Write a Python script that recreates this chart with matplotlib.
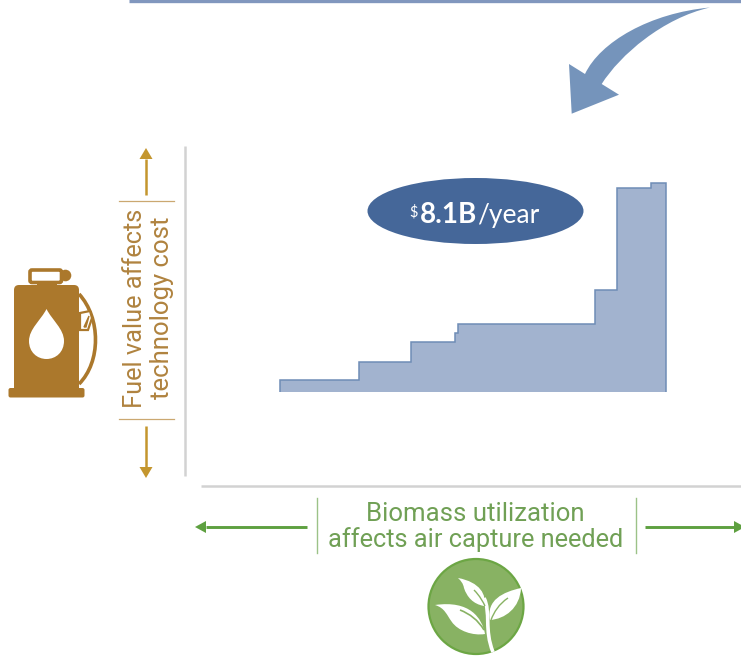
import matplotlib
matplotlib.use('Agg')
from matplotlib import pyplot as plt
from matplotlib.patches import Circle, Ellipse, FancyBboxPatch, PathPatch, Polygon
from matplotlib.path import Path

# step chart values (arbitrary units, no axis labels in the original)
step_edges = [0, 79, 132, 176, 179, 316, 338, 372, 386.5]
step_heights = [12, 30, 50, 58.5, 67.5, 101.5, 203.5, 209]

cost_label = ['$', '8.1B', '/year']
y_label = ['Fuel value affects', 'technology cost']
x_label = ['Biomass utilization', 'affects air capture needed']

BLUE_FILL = '#A2B3CF'
BLUE_EDGE = '#6F8DB6'
OVAL = '#456799'
CURVE = '#7594BB'
BROWN = '#AB782C'
GOLD = '#C4962E'
GOLD_TEXT = '#B0833F'
GREEN = '#5EA040'
GREEN_TEXT = '#70A055'
LEAF_BG = '#88B263'
GREY = '#D2D2D2'

W, H = 741, 657
fig = plt.figure(figsize=(W / 100, H / 100), dpi=100)
plt.rcParams['font.family'] = ['Roboto', 'DejaVu Sans']

# page axes in pixels, for everything around the chart
ax = fig.add_axes([0, 0, 1, 1])
ax.set_xlim(0, W)
ax.set_ylim(H, 0)
ax.axis('off')


def curve(verts, **kw):
    # first vertex is a move, the rest come in threes as cubic beziers
    codes = [Path.MOVETO] + [Path.CURVE4] * (len(verts) - 1)
    return ax.add_patch(PathPatch(Path(verts, codes), **kw))


def arrow(x0, y0, x1, y1, color, lw=1.8, head_len=11, head_w=6.5):
    ux = (x1 - x0) / max(abs(x1 - x0), abs(y1 - y0))
    uy = (y1 - y0) / max(abs(x1 - x0), abs(y1 - y0))
    bx, by = x1 - ux * head_len, y1 - uy * head_len
    ax.plot([x0, bx], [y0, by], color=color, lw=lw, solid_capstyle='butt')
    ax.add_patch(Polygon([(x1, y1), (bx - uy * head_w, by - ux * head_w),
                          (bx + uy * head_w, by + ux * head_w)], color=color, lw=0))


# top rule and curved arrow
ax.plot([129, W], [1.2, 1.2], color='#8197BE', lw=2.4, solid_capstyle='butt')
ax.add_patch(PathPatch(Path(
    [(710, 7.5), (650, 13), (600, 42), (585, 74),
     (569, 64), (571.7, 113.7), (619, 94.7), (601.7, 84),
     (620, 55), (663, 18), (710, 7.5)],
    [Path.MOVETO, Path.CURVE4, Path.CURVE4, Path.CURVE4,
     Path.LINETO, Path.LINETO, Path.LINETO, Path.LINETO,
     Path.CURVE4, Path.CURVE4, Path.CURVE4]), fc=CURVE, lw=0))

# grey axis lines
ax.plot([185, 185], [146, 476], color=GREY, lw=1.8, solid_capstyle='butt')
ax.plot([201, W], [486, 486], color=GREY, lw=1.8, solid_capstyle='butt')

# step chart on its own axes, baseline at pixel (279.5, 391.7), 1 unit = 1 px
x0_px, y0_px = 279.5, 391.7
cax = fig.add_axes([x0_px / W, (H - y0_px) / H, 390 / W, 215 / H])
cax.set_xlim(0, 390)
cax.set_ylim(0, 215)
cax.axis('off')
cax.stairs(step_heights, step_edges, baseline=0, fill=True, color=BLUE_FILL, lw=0)
cax.stairs(step_heights, step_edges, baseline=0, fill=False, color=BLUE_EDGE, lw=1.1, clip_on=False)

# cost oval
ax.add_patch(Ellipse((475.5, 211), 216, 66, fc=OVAL, lw=0, zorder=5))
ax.text(414, 217, cost_label[0].replace('$', r'\$'), color='white', fontsize=10.5, family='Lato',
        ha='center', va='baseline', zorder=6)
ax.text(419.5, 223, cost_label[1], color='white', fontsize=20, family='Lato', weight='bold',
        ha='left', va='baseline', zorder=6)
ax.text(477, 223, cost_label[2], color='white', fontsize=19, family='Lato',
        ha='left', va='baseline', zorder=6)

# fuel value annotation
arrow(146, 195, 146, 148, GOLD)
arrow(146, 426, 146, 478, GOLD)
for y in (201, 419):
    ax.plot([119, 174], [y, y], color='#CBA871', lw=0.9)
ax.text(134.5, 308.5, y_label[0], color=GOLD_TEXT, fontsize=18.3, rotation=90, ha='center', va='center')
ax.text(161.5, 308, y_label[1], color=GOLD_TEXT, fontsize=18.5, rotation=90, ha='center', va='center')

# biomass annotation
arrow(307, 527, 195, 527, GREEN, lw=2.1, head_w=6)
arrow(645, 527, 745, 527, GREEN, lw=2.1, head_w=6)
for x in (316.5, 635.5):
    ax.plot([x, x], [498, 553], color='#9CC288', lw=1)
ax.text(475, 521, x_label[0], color=GREEN_TEXT, fontsize=18.5, ha='center', va='baseline')
ax.text(475.5, 547, x_label[1], color=GREEN_TEXT, fontsize=18.3, ha='center', va='baseline')

# fuel pump icon
ax.add_patch(FancyBboxPatch((17, 288), 59, 104, boxstyle='round,pad=3,rounding_size=5', fc=BROWN, lw=0))
ax.add_patch(FancyBboxPatch((9.5, 389), 74, 7.5, boxstyle='round,pad=1,rounding_size=2', fc=BROWN, lw=0))
ax.add_patch(Polygon([(37, 282), (57, 282), (57, 288), (37, 288)], fc=BROWN, lw=0))
ax.add_patch(Circle((65.5, 275.5), 5.8, fc=BROWN, lw=0))
ax.add_patch(FancyBboxPatch((30, 270), 31.5, 12.5, boxstyle='round,pad=0,rounding_size=2',
                            fc='white', ec=BROWN, lw=2.6))
curve([(79, 294), (101, 318), (101, 362), (79, 384)], fc='none', ec=BROWN, lw=2.6)
ax.add_patch(Polygon([(80, 313), (90, 311), (92, 318), (88, 330), (80, 330)], fc='white', ec=BROWN, lw=1.6))
ax.add_patch(Polygon([(84, 327), (89, 316), (86, 327)], fc=BROWN, ec=BROWN, lw=1))
# drop in the pump
curve([(46.5, 309), (41, 320), (29, 329), (29, 341),
       (29, 352), (37, 359), (46.5, 359),
       (56, 359), (64, 352), (64, 341),
       (64, 329), (52, 320), (46.5, 309)], fc='white', lw=0)

# leaf icon
ax.add_patch(Circle((476, 606.5), 47.5, fc=LEAF_BG, ec='#6CA644', lw=1.6))
curve([(435, 605), (470, 600), (482, 618), (485, 634),
       (473, 636), (458, 631), (451.7, 621.7),
       (446.7, 615), (445, 608), (435, 605)], fc='white', lw=0)
curve([(458, 578), (480, 582), (487, 595), (484, 606),
       (473, 604), (467, 597), (464, 588),
       (463, 583), (461, 581), (458, 578)], fc='white', lw=0)
curve([(521, 588), (503, 592), (486, 600), (490, 620),
       (505, 619), (520, 608), (521, 588)], fc='white', lw=0)
curve([(493, 652), (484, 630), (491, 612), (484, 598)], fc='none', ec='white', lw=2.6)
curve([(460, 610), (470, 614), (478, 620), (484, 630)], fc='none', ec=LEAF_BG, lw=1.2)
curve([(474, 590), (480, 596), (483, 602), (485, 606)], fc='none', ec=LEAF_BG, lw=1)
curve([(508, 598), (499, 604), (494, 612), (491, 620)], fc='none', ec=LEAF_BG, lw=1)

fig.savefig('out.png', dpi=100)
